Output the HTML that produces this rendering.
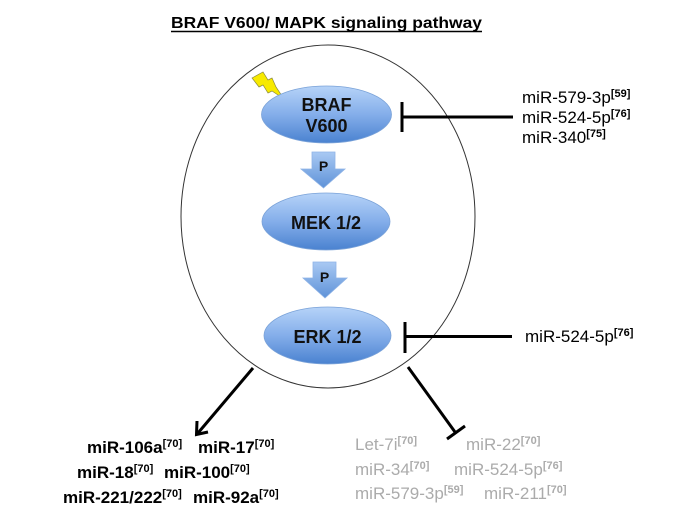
<!DOCTYPE html>
<html>
<head>
<meta charset="utf-8">
<style>
  html, body { margin: 0; padding: 0; background: #ffffff; }
  svg { display: block; }
  text { font-family: "Liberation Sans", Arial, sans-serif; }
</style>
</head>
<body>
<svg width="700" height="525" viewBox="0 0 700 525" xmlns="http://www.w3.org/2000/svg">
  <defs>
    <linearGradient id="nodeG" x1="0" y1="0" x2="0" y2="1">
      <stop offset="0" stop-color="#b6d3f8"/>
      <stop offset="0.5" stop-color="#84aeea"/>
      <stop offset="1" stop-color="#4a82d0"/>
    </linearGradient>
    <linearGradient id="arrG" x1="0" y1="0" x2="0" y2="1">
      <stop offset="0" stop-color="#a9c9f3"/>
      <stop offset="1" stop-color="#5e92d8"/>
    </linearGradient>
  </defs>

  <!-- Title -->
  <text x="171" y="28" font-size="16" font-weight="bold" fill="#000" textLength="311" lengthAdjust="spacingAndGlyphs">BRAF V600/ MAPK signaling pathway</text>
  <line x1="171" y1="31.5" x2="482" y2="31.5" stroke="#000" stroke-width="1.5"/>

  <!-- Cell ellipse -->
  <ellipse cx="328" cy="216.5" rx="147" ry="171.5" fill="none" stroke="#333" stroke-width="1"/>

  <!-- Lightning bolt -->
  <polygon points="252,78 263,72 268,80 272,78 276,87 284,99 272,91 268,93 263,85 259,87" fill="#f7ea00" stroke="#8a8a40" stroke-width="0.7"/>

  <!-- BRAF node -->
  <ellipse cx="326.5" cy="114.5" rx="65" ry="28.5" fill="url(#nodeG)" stroke="#7aa2d8" stroke-width="0.8"/>
  <text x="326.5" y="111" font-size="18" font-weight="bold" text-anchor="middle" fill="#111">BRAF</text>
  <text x="326.5" y="132" font-size="18" font-weight="bold" text-anchor="middle" fill="#111">V600</text>

  <!-- P arrow 1 -->
  <polygon points="312,152 335,152 335,169 345,169 323.5,188 301,169 312,169" fill="url(#arrG)" stroke="#8fb3e6" stroke-width="0.8"/>
  <text x="323.5" y="171" font-size="14" font-weight="bold" text-anchor="middle" fill="#111">P</text>

  <!-- MEK node -->
  <ellipse cx="326" cy="221.5" rx="64" ry="28.5" fill="url(#nodeG)" stroke="#7aa2d8" stroke-width="0.8"/>
  <text x="326" y="229" font-size="18" font-weight="bold" text-anchor="middle" fill="#111">MEK 1/2</text>

  <!-- P arrow 2 -->
  <polygon points="313,262 336,262 336,278 347,278 325,298 303,278 313,278" fill="url(#arrG)" stroke="#8fb3e6" stroke-width="0.8"/>
  <text x="324.5" y="282" font-size="14" font-weight="bold" text-anchor="middle" fill="#111">P</text>

  <!-- ERK node -->
  <ellipse cx="327.5" cy="335.5" rx="63.5" ry="28.5" fill="url(#nodeG)" stroke="#7aa2d8" stroke-width="0.8"/>
  <text x="327.5" y="343" font-size="18" font-weight="bold" text-anchor="middle" fill="#111">ERK 1/2</text>

  <!-- Inhibition BRAF -->
  <line x1="402" y1="117" x2="513" y2="117" stroke="#000" stroke-width="3"/>
  <line x1="402" y1="102" x2="402" y2="132" stroke="#000" stroke-width="3"/>

  <!-- Inhibition ERK -->
  <line x1="405" y1="336.5" x2="512" y2="336.5" stroke="#000" stroke-width="3"/>
  <line x1="405" y1="322" x2="405" y2="353" stroke="#000" stroke-width="3"/>

  <!-- Right labels top -->
  <text x="522" y="103" font-size="17" fill="#000">miR-579-3p<tspan font-size="11" font-weight="bold" dy="-6">[59]</tspan></text>
  <text x="522" y="123" font-size="17" fill="#000">miR-524-5p<tspan font-size="11" font-weight="bold" dy="-6">[76]</tspan></text>
  <text x="522" y="143" font-size="17" fill="#000">miR-340<tspan font-size="11" font-weight="bold" dy="-6">[75]</tspan></text>

  <!-- Right label ERK -->
  <text x="525" y="342" font-size="17" fill="#000">miR-524-5p<tspan font-size="11" font-weight="bold" dy="-6">[76]</tspan></text>

  <!-- Bottom-left arrow -->
  <line x1="253" y1="368" x2="198" y2="433" stroke="#000" stroke-width="3"/>
  <polyline points="197,421 196.5,434.5 208,432" fill="none" stroke="#000" stroke-width="3" stroke-linejoin="miter"/>

  <!-- Bottom-right inhibition -->
  <line x1="408" y1="367" x2="455" y2="432" stroke="#000" stroke-width="3"/>
  <line x1="447" y1="439" x2="465" y2="426" stroke="#000" stroke-width="3"/>

  <!-- Bottom-left labels (bold black) -->
  <g font-weight="bold" fill="#000" font-size="17">
    <text x="87" y="453">miR-106a<tspan font-size="11" dy="-6">[70]</tspan></text>
    <text x="198" y="453">miR-17<tspan font-size="11" dy="-6">[70]</tspan></text>
    <text x="77" y="478">miR-18<tspan font-size="11" dy="-6">[70]</tspan></text>
    <text x="164" y="478">miR-100<tspan font-size="11" dy="-6">[70]</tspan></text>
    <text x="63" y="503">miR-221/222<tspan font-size="11" dy="-6">[70]</tspan></text>
    <text x="193" y="503">miR-92a<tspan font-size="11" dy="-6">[70]</tspan></text>
  </g>

  <!-- Bottom-right labels (gray) -->
  <g fill="#ababab" font-size="17">
    <text x="355" y="450">Let-7i<tspan font-size="11" font-weight="bold" dy="-6">[70]</tspan></text>
    <text x="466" y="450">miR-22<tspan font-size="11" font-weight="bold" dy="-6">[70]</tspan></text>
    <text x="355" y="475">miR-34<tspan font-size="11" font-weight="bold" dy="-6">[70]</tspan></text>
    <text x="454" y="475">miR-524-5p<tspan font-size="11" font-weight="bold" dy="-6">[76]</tspan></text>
    <text x="355" y="499">miR-579-3p<tspan font-size="11" font-weight="bold" dy="-6">[59]</tspan></text>
    <text x="484" y="499">miR-211<tspan font-size="11" font-weight="bold" dy="-6">[70]</tspan></text>
  </g>
</svg>
</body>
</html>
